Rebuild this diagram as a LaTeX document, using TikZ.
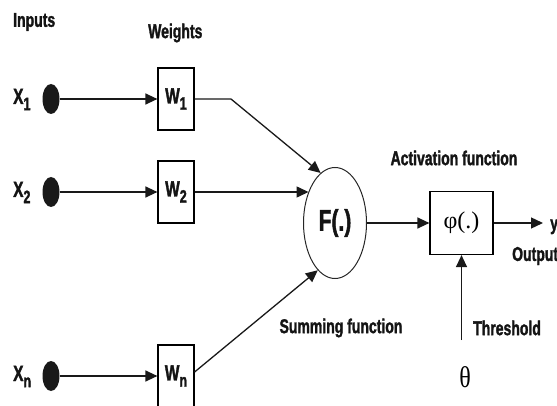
\documentclass[tikz,border=0pt]{standalone}
\usepackage{fontspec}
\setmainfont{Liberation Sans}
\newfontfamily\labelfont{Liberation Sans}[FakeStretch=0.7,FakeBold=1.5]
\newfontfamily\symfont{Liberation Serif}
\newfontfamily\thinsym{Liberation Serif}[FakeStretch=0.8]
\usetikzlibrary{arrows.meta,shapes.geometric}

% lowered index digit or letter
\newcommand\lowsub[1]{\raisebox{-0.28em}{\fontsize{18}{18}\selectfont #1}}

\begin{document}
\begin{tikzpicture}[x=1pt,y=-1pt,
  lbl/.style={font=\labelfont\bfseries\fontsize{20}{22}\selectfont, inner sep=0pt, text=black!92},
  idx/.style={font=\labelfont\bfseries\fontsize{22}{24}\selectfont, inner sep=0pt, text=black!92},
  wbox/.style={draw, line width=1.2pt, minimum width=36pt, minimum height=62pt, inner sep=0pt,
    font=\labelfont\bfseries\fontsize{22}{24}\selectfont, text=black!92},
  inputdot/.style={ellipse, fill=black!90, minimum width=17pt, minimum height=30pt, inner sep=0pt},
  conn/.style={line width=1.3pt, draw=black!90, -{Triangle[length=12pt,width=11pt]}}]

\useasboundingbox (0,0) rectangle (557,406);

% headings
\node[lbl, anchor=west] (inputs) at (13,22) {Inputs};
\node[lbl, anchor=west] (weights) at (148,33) {Weights};

% input labels
\node[idx, anchor=base west] (lx1) at (13,104) {X\lowsub{1}};
\node[idx, anchor=base west] (lx2) at (13,197) {X\lowsub{2}};
\node[idx, anchor=base west] (lxn) at (13,381) {X\lowsub{n}};

% input dots
\node[inputdot] (d1) at (51,99) {};
\node[inputdot] (d2) at (51,192) {};
\node[inputdot] (dn) at (51,376) {};

% weight boxes
\node[wbox] (W1) at (176,99) {W\lowsub{1}};
\node[wbox] (W2) at (176,192) {W\lowsub{2}};
\node[wbox] (Wn) at (176,376) {W\lowsub{n}};

% summing junction and activation box
\node[ellipse, draw=black!85, line width=1pt, minimum width=63pt, minimum height=111pt, inner sep=0pt,
  font=\labelfont\bfseries\fontsize{30}{32}\selectfont, text=black!92] (F) at (335,223) {F(.)};
\node[draw, line width=1.2pt, minimum width=63pt, minimum height=63pt, inner sep=0pt,
  font=\symfont\fontsize{24}{26}\selectfont] (phi) at (461.5,223) {φ(.)};

% captions
\node[lbl] (act) at (454,158) {Activation function};
\node[lbl] (sum) at (341,328) {Summing function};
\node[lbl, anchor=west] (thrlbl) at (473,328) {Threshold};
\node[lbl, anchor=west] (outlbl) at (512,256) {Output};
\node[lbl, anchor=base west] (ylbl) at (550,230) {y};
\node[font=\thinsym\fontsize{30}{32}\selectfont, inner sep=0pt] (theta) at (465,377) {θ};

% connectors
\coordinate (bend1) at (231,99);
\coordinate (thr) at (461.5,340);
\coordinate (yout) at (543,223);

\draw[conn] (d1) -- (W1);
\draw[conn] (d2) -- (W2);
\draw[conn] (dn) -- (Wn);
\draw[conn] (W1.east) -- (bend1) -- (F.106);
\draw[conn] (W2.east) -- (W2.east -| F.130);
\draw[conn] ([yshift=4pt]Wn.east) -- (F.250);
\draw[conn] (F) -- (phi);
\draw[conn] (phi.east) -- (yout);
\draw[conn] (thr) -- (phi.south);
\end{tikzpicture}
\end{document}
